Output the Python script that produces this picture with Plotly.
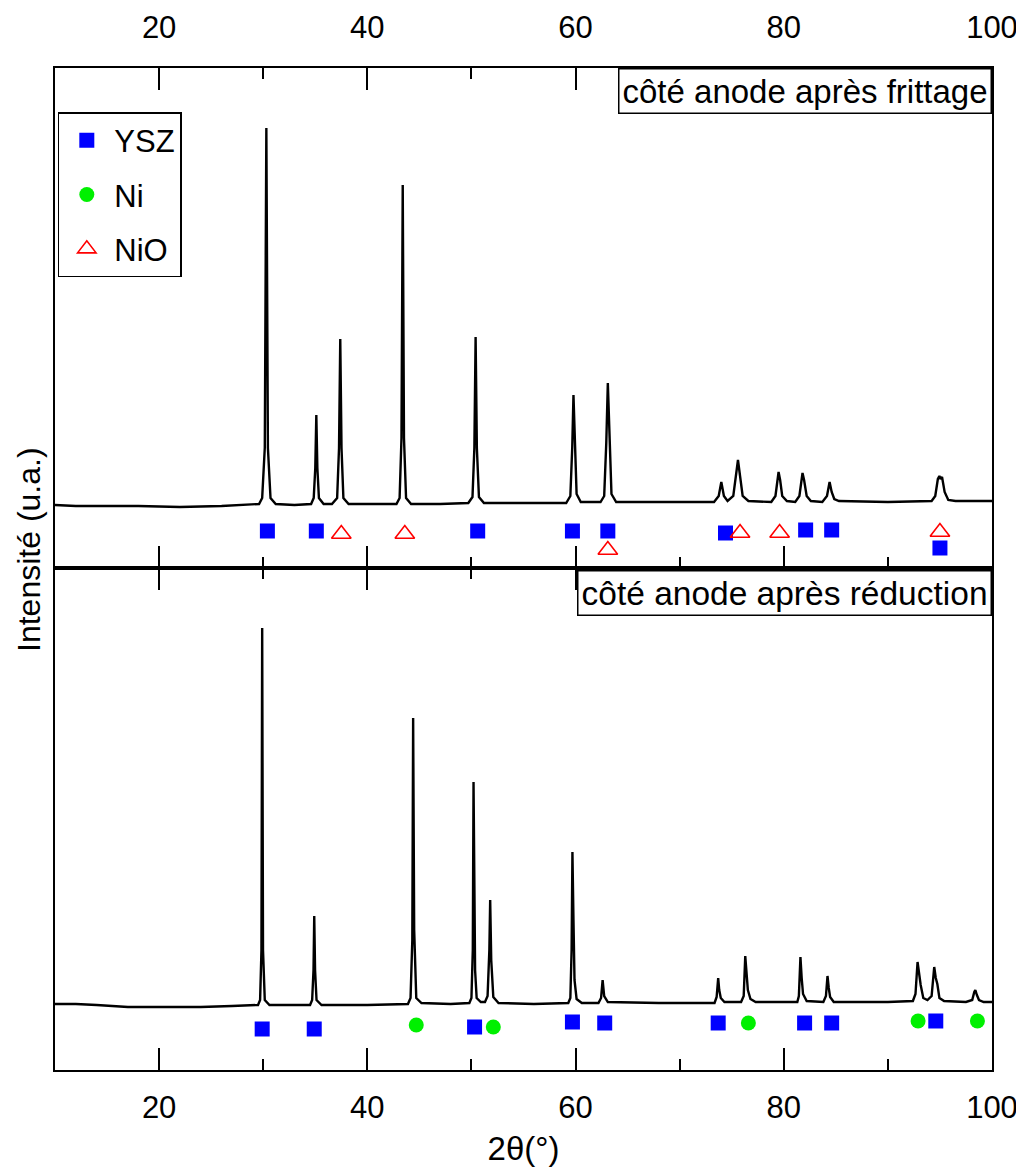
import plotly.graph_objects as go

# ---------------- data (2theta in degrees, intensity in arbitrary units) ----------------
top_2theta = [10, 12, 15, 18, 22, 26, 29.6,
              29.9, 30.15, 30.3, 30.45, 30.7, 31.2,
              33, 34.6,
              34.85, 35.0, 35.1, 35.2, 35.35, 35.8,
              36.6,
              37.1, 37.28, 37.4, 37.52, 37.7, 38.2,
              40, 42.8,
              43.1, 43.28, 43.4, 43.52, 43.72, 44.2,
              47, 49.7,
              50.1, 50.28, 50.4, 50.52, 50.72, 51.2,
              55, 59.1,
              59.5, 59.68, 59.8, 59.92, 60.1, 60.5,
              61.5, 62.4,
              62.75, 62.95, 63.1, 63.25, 63.45, 63.9,
              68, 73.3,
              73.75, 74.0, 74.25, 74.6,
              75.15, 75.42, 75.6, 75.8, 76.05, 76.6,
              78.8,
              79.2, 79.4, 79.5, 79.65, 79.85, 80.3,
              81.1,
              81.5, 81.7, 81.8, 81.95, 82.2, 82.6,
              83.7,
              84.15, 84.4, 84.6, 84.85, 85.3,
              90, 94.2,
              94.55, 94.8, 94.95, 95.05, 95.2, 95.45, 95.8, 96.5,
              100]
top_intensity = [63, 62, 62, 62, 61, 62, 64,
                 70, 120, 440, 120, 70, 64,
                 63, 64,
                 70, 100, 153, 100, 70, 64,
                 64,
                 70, 120, 229, 120, 70, 64,
                 64, 64,
                 70, 130, 383, 130, 70, 64,
                 64, 65,
                 71, 120, 231, 120, 71, 65,
                 65, 65,
                 72, 120, 173, 125, 74, 66,
                 66, 66,
                 72, 125, 185, 130, 74, 66,
                 66, 66,
                 72, 86, 72, 67,
                 72, 95, 108, 92, 72, 67,
                 66,
                 72, 92, 96, 88, 72, 67,
                 66,
                 72, 91, 95, 88, 72, 67,
                 66,
                 72, 86, 76, 69, 67,
                 66, 67,
                 72, 89, 92, 89, 91, 76, 68, 67,
                 67]

bottom_2theta = [10, 12, 14, 17, 20, 24, 27, 29.5,
                 29.7, 29.83, 29.9, 29.98, 30.15, 30.6,
                 32.5, 34.5,
                 34.7, 34.83, 34.9, 34.98, 35.12, 35.6,
                 40, 43.9,
                 44.15, 44.32, 44.4, 44.5, 44.7, 45.2,
                 48, 49.8,
                 50.0, 50.13, 50.2, 50.28, 50.35, 50.5, 50.9,
                 51.3,
                 51.55, 51.72, 51.8, 51.9, 52.1, 52.6,
                 56, 59.3,
                 59.5, 59.62, 59.7, 59.8, 59.9, 60.1, 60.6,
                 62.2,
                 62.45, 62.6, 62.75, 63.1,
                 68, 73.35,
                 73.55, 73.7, 73.8, 73.95, 74.3,
                 75.9,
                 76.15, 76.3, 76.42, 76.55, 76.8, 77.3,
                 80, 81.3,
                 81.45, 81.6, 81.72, 81.85, 82.2,
                 83.8,
                 84.05, 84.2, 84.32, 84.45, 84.8,
                 90, 92.4,
                 92.65, 92.85, 93.0, 93.15, 93.4, 93.8,
                 94.2, 94.45, 94.6, 94.75, 94.95, 95.4,
                 97.5, 98.1,
                 98.3, 98.4, 98.55, 98.75, 99.2, 100]
bottom_intensity = [66, 66, 65, 63, 63, 63, 64, 65,
                    70, 120, 442, 120, 70, 65,
                    65, 65,
                    70, 100, 154, 100, 70, 65,
                    65, 66,
                    72, 130, 352, 140, 72, 67,
                    66, 67,
                    72, 120, 288, 170, 100, 72, 68,
                    68,
                    74, 120, 170, 110, 73, 67,
                    66, 67,
                    72, 120, 218, 150, 90, 71, 67,
                    67,
                    72, 90, 74, 68,
                    67, 67,
                    73, 92, 80, 72, 68,
                    68,
                    74, 114, 95, 80, 71, 68,
                    68, 68,
                    74, 113, 92, 76, 69,
                    68,
                    74, 94, 82, 73, 68,
                    68, 69,
                    76, 108, 96, 85, 72, 70,
                    74, 103, 92, 86, 72, 69,
                    68, 70,
                    78, 80, 75, 70, 68, 68]

# phase markers (reference peak positions)
top_ysz_x = [30.4, 35.1, 50.6, 59.7, 63.1, 74.4, 82.1, 84.6, 95.0]
top_ysz_y = [37, 37, 37, 37, 37, 35, 38, 38, 20]
top_nio_x = [37.5, 43.6, 63.1, 75.8, 79.6, 95.0]
top_nio_y = [34, 34, 18, 35, 35, 36]

bottom_ysz_x = [29.9, 34.9, 50.3, 59.7, 62.8, 73.7, 82.0, 84.6, 94.6]
bottom_ysz_y = [41, 41, 43, 48, 47, 47, 47, 47, 49]
bottom_ni_x = [44.7, 52.1, 76.6, 92.9, 98.6]
bottom_ni_y = [45, 43, 47, 49, 49]

x_ticks = [20, 40, 60, 80, 100]
panel_labels = ["côté anode après frittage", "côté anode après réduction"]

# ---------------- figure ----------------
FONT = "Liberation Sans, Arial, sans-serif"
BLUE = "#0000FF"
GREEN = "#00F000"
RED = "#FF0000"

fig = go.Figure()

fig.add_trace(go.Scatter(x=top_2theta, y=top_intensity, mode="lines",
                         line=dict(color="black", width=2.4),
                         xaxis="x2", yaxis="y2", showlegend=False))
fig.add_trace(go.Scatter(x=bottom_2theta, y=bottom_intensity, mode="lines",
                         line=dict(color="black", width=2.4),
                         xaxis="x", yaxis="y", showlegend=False))

fig.add_trace(go.Scatter(x=top_ysz_x, y=top_ysz_y, mode="markers", name="YSZ",
                         legendgroup="ysz",
                         marker=dict(symbol="square", size=15, color=BLUE),
                         xaxis="x2", yaxis="y2"))
fig.add_trace(go.Scatter(x=bottom_ni_x, y=bottom_ni_y, mode="markers", name="Ni",
                         legendgroup="ni",
                         marker=dict(symbol="circle", size=15, color=GREEN),
                         xaxis="x", yaxis="y"))
fig.add_trace(go.Scatter(x=top_nio_x, y=top_nio_y, mode="markers", name="NiO",
                         legendgroup="nio",
                         marker=dict(symbol="triangle-up-open", size=17, color=RED,
                                     line=dict(color=RED, width=1.6)),
                         xaxis="x2", yaxis="y2"))
fig.add_trace(go.Scatter(x=bottom_ysz_x, y=bottom_ysz_y, mode="markers", name="YSZ",
                         legendgroup="ysz", showlegend=False,
                         marker=dict(symbol="square", size=15, color=BLUE),
                         xaxis="x", yaxis="y"))

xcommon = dict(range=[10, 100], tickmode="array", tickvals=x_ticks,
               ticktext=[str(v) for v in x_ticks],
               ticks="inside", ticklen=22, tickwidth=2, tickcolor="black",
               minor=dict(ticks="inside", ticklen=11, tickwidth=2, tickcolor="black",
                          tickmode="array", tickvals=[30, 50, 70, 90]),
               showline=True, linecolor="black", linewidth=2, mirror="ticks",
               showgrid=False, zeroline=False, automargin=False,
               tickfont=dict(family=FONT, size=31, color="black"))
ycommon = dict(showticklabels=False, ticks="", showgrid=False, zeroline=False,
               showline=True, linecolor="black", linewidth=2, mirror=True,
               automargin=False)

split = 0.501
fig.update_layout(
    width=1016, height=1160,
    margin=dict(l=47, r=32, t=60, b=98),
    paper_bgcolor="white", plot_bgcolor="white",
    font=dict(family=FONT, size=30, color="black"),
    xaxis=dict(**xcommon, anchor="y", side="bottom", ticklabelstandoff=9,
               title=dict(text="2θ(°)", font=dict(family=FONT, size=33), standoff=13)),
    xaxis2=dict(**xcommon, anchor="y2", side="top", matches="x", ticklabelstandoff=16),
    yaxis=dict(**ycommon, domain=[0, split], range=[0, 502]),
    yaxis2=dict(**ycommon, domain=[split, 1], range=[0, 500]),
    legend=dict(x=0.003, xanchor="left", y=0.956, yanchor="top",
                bgcolor="white", bordercolor="black", borderwidth=1.5,
                font=dict(family=FONT, size=31, color="black"),
                traceorder="grouped", tracegroupgap=11,
                itemsizing="trace", itemwidth=45),
    annotations=[
        dict(text=panel_labels[0], xref="x2 domain", yref="y2 domain",
             x=1, y=1, xanchor="right", yanchor="top", showarrow=False,
             font=dict(family=FONT, size=33, color="black"),
             bordercolor="black", borderwidth=1.5, borderpad=3, bgcolor="white"),
        dict(text=panel_labels[1], xref="x domain", yref="y domain",
             x=1, y=0.997, xanchor="right", yanchor="top", showarrow=False,
             font=dict(family=FONT, size=33.5, color="black"),
             bordercolor="black", borderwidth=1.5, borderpad=3, bgcolor="white"),
        dict(text="Intensité (u.a.)", xref="paper", yref="paper",
             x=0, y=0.519, xshift=-26, xanchor="center", yanchor="middle",
             textangle=-90, showarrow=False,
             font=dict(family=FONT, size=32, color="black")),
    ],
)

fig.write_html("out.html")
